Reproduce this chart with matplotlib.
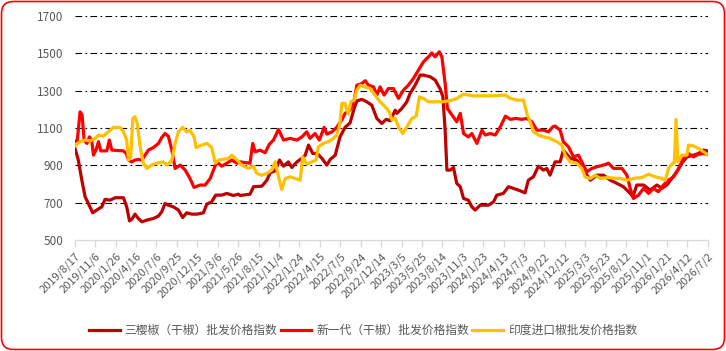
import numpy as np
import pandas as pd
import matplotlib
matplotlib.use("Agg")
import matplotlib.pyplot as plt
import matplotlib.dates as mdates
from matplotlib.patches import FancyBboxPatch
from matplotlib.transforms import IdentityTransform

plt.rcParams['font.family'] = ['Noto Sans CJK SC', 'DejaVu Sans']

# 三樱椒（干椒）
dark_dates = ["2019-08-17", "2019-08-31", "2019-09-14", "2019-09-27", "2019-10-10", "2019-10-27",
              "2019-11-12", "2019-12-02", "2019-12-15", "2020-01-04", "2020-01-24", "2020-02-26",
              "2020-03-10", "2020-03-21", "2020-03-30", "2020-04-12", "2020-04-25", "2020-05-09",
              "2020-05-29", "2020-06-24", "2020-07-14", "2020-07-27", "2020-08-09", "2020-08-22",
              "2020-09-11", "2020-10-01", "2020-10-18", "2020-11-03", "2020-11-23", "2020-12-13",
              "2021-01-08", "2021-01-22", "2021-02-10", "2021-02-26", "2021-03-22", "2021-04-11",
              "2021-05-07", "2021-05-27", "2021-06-03", "2021-07-12", "2021-07-26", "2021-08-28",
              "2021-09-17", "2021-09-30", "2021-10-20", "2021-11-06", "2021-11-22", "2021-12-11",
              "2021-12-25", "2022-01-14", "2022-02-03", "2022-02-16", "2022-03-01", "2022-03-18",
              "2022-04-05", "2022-04-23", "2022-05-13", "2022-05-26", "2022-06-15", "2022-07-04",
              "2022-07-24", "2022-08-13", "2022-08-29", "2022-09-09", "2022-09-29", "2022-10-18",
              "2022-11-07", "2022-11-27", "2022-12-17", "2023-01-03", "2023-01-19", "2023-02-08",
              "2023-02-14", "2023-03-06", "2023-03-26", "2023-04-08", "2023-04-28", "2023-05-18",
              "2023-05-31", "2023-06-27", "2023-07-17", "2023-08-06", "2023-08-16", "2023-08-25",
              "2023-09-01", "2023-09-14", "2023-09-27", "2023-10-10", "2023-10-24", "2023-11-06",
              "2023-11-25", "2023-12-09", "2023-12-22", "2024-01-11", "2024-02-13", "2024-03-04",
              "2024-03-17", "2024-04-12", "2024-05-02", "2024-05-22", "2024-06-18", "2024-07-07",
              "2024-07-20", "2024-08-09", "2024-08-29", "2024-09-18", "2024-10-01", "2024-10-14",
              "2024-11-03", "2024-11-23", "2024-12-06", "2025-01-02", "2025-01-28", "2025-02-24",
              "2025-03-23", "2025-04-18", "2025-05-14", "2025-06-10", "2025-07-06", "2025-08-01",
              "2025-08-28", "2025-09-08", "2025-09-23", "2025-10-20", "2025-11-15", "2025-12-12",
              "2026-01-01", "2026-01-20", "2026-02-09", "2026-03-01", "2026-03-21", "2026-04-10",
              "2026-05-06", "2026-05-26", "2026-06-15", "2026-06-28"]
dark_vals = [995, 929, 821, 732, 696, 646,
             661, 678, 718, 714, 727, 727,
             678, 603, 611, 639, 616, 598,
             607, 616, 629, 652, 696, 687,
             678, 661, 621, 646, 639, 639,
             646, 693, 705, 741, 741, 750,
             739, 746, 739, 746, 786, 789,
             821, 861, 871, 929, 896, 919,
             889, 919, 938, 955, 1009, 964,
             964, 938, 902, 932, 955, 1053,
             1104, 1128, 1205, 1246, 1254, 1241,
             1223, 1152, 1125, 1147, 1140, 1196,
             1179, 1205, 1241, 1286, 1330, 1384,
             1384, 1375, 1357, 1307, 1268, 1089,
             875, 875, 889, 804, 786, 723,
             714, 678, 661, 687, 687, 705,
             741, 750, 786, 777, 764, 753,
             821, 839, 896, 875, 884, 848,
             919, 919, 982, 938, 929, 875,
             821, 848, 848, 821, 804, 786,
             750, 732, 795, 795, 768, 795,
             777, 795, 830, 866, 912, 946,
             955, 964, 982, 978]

# 新一代（干椒）
red_dates = ["2019-08-17", "2019-08-27", "2019-09-07", "2019-09-15", "2019-09-23", "2019-10-04",
             "2019-10-14", "2019-10-23", "2019-10-30", "2019-11-09", "2019-11-19", "2019-11-28",
             "2019-12-22", "2020-01-01", "2020-01-11", "2020-02-26", "2020-03-08", "2020-03-17",
             "2020-03-30", "2020-04-12", "2020-04-25", "2020-05-09", "2020-05-22", "2020-06-04",
             "2020-06-24", "2020-07-14", "2020-07-27", "2020-08-09", "2020-08-22", "2020-09-05",
             "2020-09-18", "2020-10-08", "2020-10-28", "2020-11-16", "2020-12-02", "2020-12-26",
             "2021-01-15", "2021-02-04", "2021-02-17", "2021-03-02", "2021-03-22", "2021-04-11",
             "2021-05-01", "2021-05-21", "2021-06-03", "2021-07-12", "2021-07-23", "2021-08-01",
             "2021-08-21", "2021-09-10", "2021-09-27", "2021-10-13", "2021-11-02", "2021-11-22",
             "2021-12-18", "2022-01-14", "2022-02-03", "2022-02-22", "2022-03-07", "2022-03-27",
             "2022-04-13", "2022-05-02", "2022-05-13", "2022-06-02", "2022-06-21", "2022-07-11",
             "2022-07-24", "2022-08-13", "2022-08-29", "2022-09-09", "2022-09-29", "2022-10-12",
             "2022-10-25", "2022-11-14", "2022-11-27", "2022-12-10", "2022-12-26", "2023-01-12",
             "2023-02-01", "2023-02-21", "2023-03-13", "2023-04-01", "2023-04-21", "2023-05-11",
             "2023-05-31", "2023-06-20", "2023-07-03", "2023-07-16", "2023-08-02", "2023-08-12",
             "2023-08-25", "2023-09-03", "2023-09-21", "2023-10-10", "2023-10-24", "2023-11-06",
             "2023-11-25", "2023-12-09", "2023-12-29", "2024-01-18", "2024-01-31", "2024-02-20",
             "2024-03-11", "2024-03-31", "2024-04-20", "2024-05-10", "2024-05-30", "2024-06-24",
             "2024-07-14", "2024-08-03", "2024-08-23", "2024-09-18", "2024-10-08", "2024-10-25",
             "2024-11-03", "2024-11-23", "2024-12-06", "2024-12-26", "2025-01-15", "2025-02-04",
             "2025-02-17", "2025-03-09", "2025-03-29", "2025-04-18", "2025-05-14", "2025-06-03",
             "2025-06-23", "2025-07-26", "2025-08-15", "2025-08-28", "2025-09-10", "2025-09-30",
             "2025-10-20", "2025-11-09", "2025-11-28", "2025-12-18", "2026-01-07", "2026-01-27",
             "2026-02-16", "2026-03-08", "2026-03-27", "2026-04-16", "2026-05-06", "2026-05-26",
             "2026-06-15", "2026-06-28"]
red_vals = [1027, 1036, 1187, 1170, 1036, 1018,
            1053, 1036, 955, 982, 1027, 978,
            978, 1036, 982, 978, 964, 929,
            919, 929, 932, 929, 955, 982,
            996, 1018, 1050, 1071, 1057, 982,
            884, 902, 875, 830, 782, 795,
            795, 830, 875, 919, 896, 912,
            929, 912, 919, 912, 1018, 973,
            982, 968, 1014, 1036, 1093, 1036,
            1045, 1036, 1053, 1080, 1045, 1071,
            1036, 1104, 1068, 1080, 1104, 1143,
            1179, 1196, 1250, 1330, 1339, 1354,
            1330, 1321, 1277, 1321, 1277, 1312,
            1312, 1259, 1304, 1330, 1366, 1411,
            1455, 1482, 1503, 1482, 1509, 1482,
            1339, 1205, 1170, 1134, 1179, 1071,
            1053, 1071, 1018, 1089, 1063, 1071,
            1063, 1107, 1164, 1147, 1152, 1147,
            1152, 1134, 1089, 1089, 1080, 1107,
            1111, 1089, 1027, 1000, 946, 955,
            919, 866, 884, 893, 902, 912,
            884, 884, 848, 777, 723, 741,
            777, 750, 777, 759, 795, 821,
            839, 884, 938, 964, 946, 960,
            964, 960]

# 印度进口椒
yel_dates = ["2019-08-17", "2019-09-07", "2019-09-27", "2019-10-17", "2019-11-06", "2019-11-19",
             "2019-12-08", "2019-12-28", "2020-01-17", "2020-02-13", "2020-02-26", "2020-03-10",
             "2020-03-17", "2020-03-26", "2020-04-03", "2020-04-12", "2020-04-21", "2020-05-02",
             "2020-05-15", "2020-05-29", "2020-06-17", "2020-07-07", "2020-08-02", "2020-08-18",
             "2020-09-05", "2020-09-18", "2020-10-01", "2020-10-18", "2020-11-03", "2020-11-16",
             "2020-12-02", "2020-12-10", "2021-01-02", "2021-01-22", "2021-02-10", "2021-02-24",
             "2021-03-09", "2021-03-28", "2021-04-17", "2021-05-01", "2021-05-21", "2021-06-09",
             "2021-07-06", "2021-07-26", "2021-08-08", "2021-08-28", "2021-09-17", "2021-10-06",
             "2021-10-20", "2021-11-02", "2021-11-15", "2021-11-29", "2021-12-18", "2022-01-07",
             "2022-01-27", "2022-02-06", "2022-02-22", "2022-03-14", "2022-03-31", "2022-04-09",
             "2022-04-29", "2022-05-19", "2022-06-08", "2022-06-21", "2022-07-04", "2022-07-11",
             "2022-07-24", "2022-08-06", "2022-08-16", "2022-08-29", "2022-09-09", "2022-09-22",
             "2022-10-12", "2022-10-31", "2022-11-20", "2022-12-10", "2022-12-30", "2023-01-16",
             "2023-01-26", "2023-02-08", "2023-02-21", "2023-03-10", "2023-03-26", "2023-04-15",
             "2023-05-02", "2023-05-15", "2023-05-31", "2023-06-20", "2023-08-18", "2023-09-21",
             "2023-10-10", "2023-11-06", "2023-12-15", "2024-02-20", "2024-04-20", "2024-05-10",
             "2024-06-04", "2024-07-01", "2024-07-14", "2024-07-27", "2024-08-09", "2024-08-29",
             "2024-09-18", "2024-10-14", "2024-11-10", "2024-11-30", "2024-12-13", "2025-01-02",
             "2025-01-28", "2025-02-17", "2025-03-02", "2025-03-23", "2025-04-11", "2025-05-01",
             "2025-05-28", "2025-07-20", "2025-08-15", "2025-09-10", "2025-10-13", "2025-11-09",
             "2025-12-05", "2026-01-01", "2026-01-14", "2026-01-27", "2026-02-13", "2026-02-19",
             "2026-02-26", "2026-03-05", "2026-03-21", "2026-04-10", "2026-04-16", "2026-05-06",
             "2026-05-26", "2026-06-15", "2026-06-28"]
yel_vals = [1004, 1027, 1036, 1032, 1045, 1063,
            1057, 1080, 1104, 1104, 1080, 1036,
            929, 946, 1152, 1161, 1125, 1000,
            912, 884, 902, 912, 919, 902,
            929, 1018, 1080, 1104, 1080, 1089,
            1053, 996, 1009, 1018, 996, 912,
            929, 932, 938, 955, 929, 902,
            884, 896, 857, 848, 857, 875,
            919, 839, 771, 830, 839, 830,
            821, 946, 907, 919, 929, 1000,
            1018, 1027, 1045, 1063, 1125, 1232,
            1232, 1175, 1241, 1250, 1304, 1330,
            1321, 1312, 1277, 1241, 1214, 1187,
            1143, 1152, 1107, 1071, 1107, 1152,
            1164, 1268, 1259, 1241, 1241, 1250,
            1259, 1282, 1273, 1273, 1277, 1259,
            1250, 1250, 1179, 1134, 1080, 1063,
            1053, 1045, 1027, 1009, 955, 919,
            912, 884, 839, 830, 848, 830,
            835, 830, 821, 830, 835, 853,
            839, 830, 821, 884, 912, 914,
            1147, 919, 955, 955, 1009, 1004,
            991, 973, 960]

series_names = ["三樱椒（干椒）批发价格指数", "新一代（干椒）批发价格指数", "印度进口椒批发价格指数"]
series_colors = ["#C00000", "#FF0000", "#FFC000"]

tick_start = pd.Timestamp("2019-08-17")
tick_step_days = 81
n_ticks = 32
y_ticks = [500, 700, 900, 1100, 1300, 1500, 1700]

fig = plt.figure(figsize=(7.26, 3.51), dpi=100)
ax = fig.add_axes([0.103, 0.316, 0.872, 0.638])

all_series = [(dark_dates, dark_vals), (red_dates, red_vals), (yel_dates, yel_vals)]
for (d, v), name, col in zip(all_series, series_names, series_colors):
    ax.plot(pd.to_datetime(d), v, color=col, lw=2.3, label=name,
            solid_joinstyle='round', zorder=3)

tick_dates = [tick_start + pd.Timedelta(days=tick_step_days * k) for k in range(n_ticks)]
ax.set_xlim(tick_dates[0], tick_dates[-1])
ax.set_xticks(tick_dates)
ax.set_xticklabels([f"{t.year}/{t.month}/{t.day}" for t in tick_dates],
                   rotation=45, ha='right', va='top', rotation_mode='anchor',
                   fontsize=8, color='#595959')

ax.set_ylim(500, 1700)
ax.set_yticks(y_ticks)
ax.set_yticklabels([str(v) for v in y_ticks], fontsize=8.5, color='#595959')
for v in y_ticks[1:]:
    ax.axhline(v, color='black', lw=0.8, dashes=(6, 3, 1.5, 3), zorder=1)

for s in ['top', 'right', 'left']:
    ax.spines[s].set_visible(False)
ax.spines['bottom'].set_color('#d9d9d9')
ax.spines['bottom'].set_linewidth(1.0)
ax.tick_params(axis='x', length=5, color='#d9d9d9', width=1.0, pad=3)
ax.tick_params(axis='y', length=0, pad=8)

fig.legend(loc='center', bbox_to_anchor=(0.5, 0.058), ncol=3, frameon=False,
           fontsize=8.5, handlelength=2.6, handletextpad=0.4, columnspacing=0.3,
           labelcolor='#595959')

border = FancyBboxPatch((1.5, 1.5), 723, 348, boxstyle="round,pad=0,rounding_size=12",
                        transform=IdentityTransform(), fc='none', ec='#FF0000', lw=1.2)
fig.add_artist(border)

fig.savefig("out.png", dpi=100)
